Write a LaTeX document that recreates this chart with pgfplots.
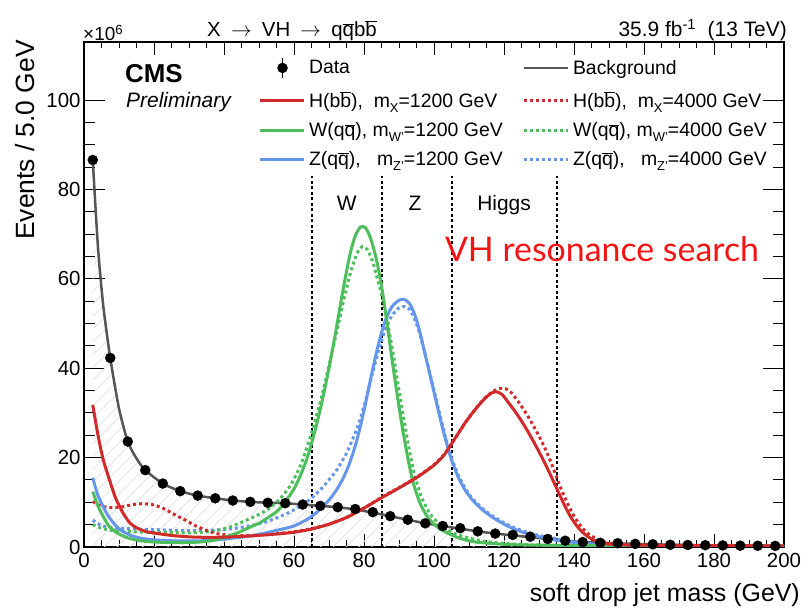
\documentclass[border=0pt]{standalone}
\usepackage{fontspec}
\setmainfont{Liberation Sans}
\newfontfamily\latofont{Lato}
\usepackage{pgfplots}
\pgfplotsset{compat=1.18}
\usetikzlibrary{patterns.meta}

\definecolor{cred}{RGB}{208,42,42}
\definecolor{cgreen}{RGB}{78,190,92}
\definecolor{cblue}{RGB}{100,150,236}
\definecolor{cbkg}{RGB}{85,85,85}
\definecolor{vhred}{RGB}{245,20,20}

\newcommand{\fs}[1]{\fontsize{#1}{#1}\selectfont}
\newcommand{\ob}[1]{\ensuremath{\overline{\mbox{#1}}}}
\newcommand{\sub}[1]{\raisebox{-5bp}{\fs{13}#1}}
\newcommand{\cw}[1]{\makebox[213bp][l]{#1}}
\newcommand{\arr}{\hspace{0.5em}\ensuremath{\rightarrow}\hspace{0.5em}}

% data: events per 5 GeV (x10^6)
\pgfplotstableread{
x y
2.5 86.6
7.5 42.3
12.5 23.6
17.5 17.2
22.5 14.2
27.5 12.5
32.5 11.5
37.5 10.9
42.5 10.4
47.5 10.1
52.5 9.9
57.5 9.8
62.5 9.5
67.5 9.2
72.5 8.9
77.5 8.5
82.5 7.8
87.5 6.9
92.5 6.1
97.5 5.3
102.5 4.7
107.5 4.2
112.5 3.5
117.5 3.0
122.5 2.7
127.5 2.3
132.5 1.8
137.5 1.4
142.5 1.1
147.5 0.95
152.5 0.85
157.5 0.7
162.5 0.6
167.5 0.5
172.5 0.45
177.5 0.4
182.5 0.35
187.5 0.3
192.5 0.28
197.5 0.25
}\datatab

\pgfplotstableread{
x y
2.5 86.6
4 67
5.5 54
7.5 42.3
10 31
12.5 23.6
15 19.8
17.5 17.2
22.5 14.2
27.5 12.5
32.5 11.5
37.5 10.9
42.5 10.4
47.5 10.1
52.5 9.9
57.5 9.8
62.5 9.5
67.5 9.2
72.5 8.9
77.5 8.4
82.5 7.7
87.5 6.9
92.5 6.1
97.5 5.3
102.5 4.7
107.5 4.1
112.5 3.5
117.5 3.0
122.5 2.6
127.5 2.2
132.5 1.8
137.5 1.4
142.5 1.1
147.5 0.95
152.5 0.82
157.5 0.7
162.5 0.6
167.5 0.52
172.5 0.45
177.5 0.4
182.5 0.35
187.5 0.31
192.5 0.28
200 0.24
}\bkgtab

\begin{document}
\begin{tikzpicture}
\useasboundingbox (-84bp,-66bp) rectangle (723bp,547bp);
\begin{axis}[
  at={(0,0)}, anchor=south west,
  scale only axis, width=700bp, height=505bp,
  xmin=0, xmax=200, ymin=0, ymax=113,
  xtick={0,20,...,200}, ytick={0,20,...,100},
  minor x tick num=3, minor y tick num=3,
  tick align=inside,
  axis line style={line width=1.3bp},
  every tick/.style={black, line width=1bp},
  xtick style={/pgfplots/major tick length=13bp, /pgfplots/minor tick length=6.5bp},
  ytick style={/pgfplots/major tick length=21bp, /pgfplots/minor tick length=11bp},
  tick label style={font=\fs{20.5}},
  xticklabel style={yshift=-3bp},
  /pgf/number format/assume math mode=true,
  scaled y ticks=false,
  sm/.style={smooth, tension=0.4},
  legend columns=2,
  legend cell align=left,
  legend style={at={(0.2486,0.9697)}, anchor=north west, draw=none, fill=none,
    inner sep=0pt, outer sep=0pt, row sep=13.2bp, column sep=0pt,
    font=\fs{19.5}, nodes={inner sep=0pt, outer sep=0pt}},
  legend image code/.code={\draw[#1] (0bp,0bp) -- (44bp,0bp); \path (48bp,0bp);},
]
% legend
\addlegendimage{legend image code/.code={\fill[black] (23bp,0bp) circle (5bp);
  \draw[black, line width=1.3bp] (23bp,-10bp) -- (23bp,10bp); \path (48bp,0bp);}}
\addlegendentry{\cw{Data}}
\addlegendimage{cbkg, line width=2.5bp}
\addlegendentry{Background}
\addlegendimage{cred, line width=3bp}
\addlegendentry{\cw{H(b\ob{b}),\ \ m\sub{X}=1200 GeV}}
\addlegendimage{cred, line width=3bp, dash pattern=on 3bp off 3bp}
\addlegendentry{H(b\ob{b}),\ \ m\sub{X}=4000 GeV}
\addlegendimage{cgreen, line width=3bp}
\addlegendentry{\cw{W(q\ob{q}), m\sub{W'}=1200 GeV}}
\addlegendimage{cgreen, line width=3bp, dash pattern=on 3bp off 3bp}
\addlegendentry{W(q\ob{q}), m\sub{W'}=4000 GeV}
\addlegendimage{cblue, line width=3bp}
\addlegendentry{\cw{Z(q\ob{q}),\ \ \ m\sub{Z'}=1200 GeV}}
\addlegendimage{cblue, line width=3bp, dash pattern=on 3bp off 3bp}
\addlegendentry{Z(q\ob{q}),\ \ \ m\sub{Z'}=4000 GeV}

% hatched background area
\addplot[draw=none, sm, pattern={Lines[angle=45,distance=9bp,line width=0.9bp]},
  pattern color=black!10, forget plot] table {\bkgtab} \closedcycle;

% mass windows
\addplot[black, line width=2bp, dash pattern=on 3bp off 2.5bp, forget plot] coordinates {(65,0) (65,83)};
\addplot[black, line width=2bp, dash pattern=on 3bp off 2.5bp, forget plot] coordinates {(85,0) (85,83)};
\addplot[black, line width=2bp, dash pattern=on 3bp off 2.5bp, forget plot] coordinates {(105,0) (105,83)};
\addplot[black, line width=2bp, dash pattern=on 3bp off 2.5bp, forget plot] coordinates {(135,0) (135,83)};

% background
\addplot[cbkg, line width=2.5bp, sm, forget plot] table {\bkgtab};

% Z 4000 dotted
\addplot[cblue, line width=3bp, dash pattern=on 3bp off 3bp, sm, forget plot] coordinates {
(2.5,6.0)(5,4.8)(8,4.3)(13,4.1)(20,3.9)(27,3.7)(33,3.7)(40,3.9)(45,4.4)(51,5.4)(56,6.8)
(60,8.3)(64,10.3)(68,13.2)(72,17)(75,21)(78,26.5)(80,31.5)(82,37.5)(84,43.5)(86,48.5)
(88,51.8)(90,53.5)(91.5,53.8)(93,53.2)(94.5,51)(96,47.5)(97.5,43)(99,38.3)(100.5,33.5)
(102,28.6)(103.5,24)(105,20)(107,16)(109,13)(111,10.8)(114,8.5)(117,6.8)(121,5)(125,3.7)
(130,2.6)(136,1.7)(142,1.0)(148,0.6)(155,0.4)(170,0.3)(200,0.22)};
% W 4000 dotted
\addplot[cgreen, line width=3bp, dash pattern=on 3bp off 3bp, sm, forget plot] coordinates {
(2.5,5)(5,4.2)(8,3.7)(12,3.5)(18,3.3)(25,3.2)(32,3.2)(37,3.6)(41,4.3)(44,5.2)(47,6.2)
(50,7.3)(53,8.7)(56,10.8)(59,13.8)(62,18.5)(65,25.5)(68,34)(71,44)(74,54.5)(76,61)
(78,65.7)(79.5,67.2)(81,66.5)(82.5,63.8)(84,59.5)(85.5,55)(87,49)(88.5,42.5)(90,35)
(91.5,28)(93,21.5)(94.5,16)(96.5,11)(99,7.3)(102,4.8)(106,3.0)(110,2.0)(115,1.2)(122,0.7)
(130,0.45)(150,0.3)(200,0.2)};
% H 4000 dotted
\addplot[cred, line width=3bp, dash pattern=on 3bp off 3bp, sm, forget plot] coordinates {
(2.5,10.2)(5,9.1)(8,8.8)(11,9.0)(14,9.5)(17,9.7)(20,9.4)(23,8.5)(26,7.2)(29,6.0)(32,4.7)
(35,3.7)(38,3.0)(42,2.6)(48,2.6)(55,3.0)(60,3.4)(65,4.1)(70,5.1)(75,6.6)(80,8.7)(85,11.1)
(90,13.3)(95,15.6)(100,18.4)(103,20.8)(106,24.3)(109,27.9)(112,31.0)(114.5,33.3)(117,34.9)
(119,35.5)(120.5,35.4)(122,34.6)(124,32.6)(126,30.3)(128,27.7)(130,24.8)(132,21.6)
(134,17.8)(136,13.6)(138,10.0)(140,6.9)(142,4.6)(144,3.0)(146,2.0)(148,1.3)(151,0.7)
(156,0.45)(170,0.35)(200,0.25)};
% Z 1200
\addplot[cblue, line width=3bp, sm, forget plot] coordinates {
(2.5,15.5)(4,11.5)(6.5,7.5)(8.5,5.3)(10.3,3.9)(13,2.7)(16,2.0)(20,1.6)(25,1.4)(32,1.35)
(38,1.6)(42,1.95)(47,2.4)(51,3.0)(56,3.9)(60,4.7)(64,6.3)(67,8.1)(70,10.5)(72,12.6)
(74,15.3)(76,19)(78,24)(80,30.5)(82,38)(84,45)(86,50.5)(88,53.8)(90,55.2)(91.5,55.4)
(93,54.5)(94.5,52)(96,48)(97.5,43)(99,38)(100.5,33)(102,28)(103.5,23.5)(105,19.5)
(107,15.5)(109,12.6)(111,10.5)(114,8.2)(117,6.5)(121,4.7)(125,3.4)(129,2.5)(133,1.8)
(138,1.2)(143,0.8)(148,0.5)(155,0.35)(170,0.25)(200,0.2)};
% W 1200
\addplot[cgreen, line width=3bp, sm, forget plot] coordinates {
(2.5,12.4)(4,9.2)(5.5,6.8)(7,4.8)(8.5,3.7)(10,2.9)(13,1.9)(17,1.3)(22,1.05)(28,1.0)(33,1.1)
(37,1.5)(41,2.4)(44,3.2)(47,4.3)(50,5.3)(53,6.8)(55,7.9)(57,9.6)(60,13)(62,16.3)(64,20.5)
(66,26)(68,32.5)(70,40)(72,48.5)(74,57.5)(76,65.5)(77.5,69.6)(79,71.6)(80.5,71.4)(82,68.8)
(83.5,64.5)(85,58.5)(86.5,50.5)(88,42)(89.5,34)(91,26.5)(92.5,20)(94,14.5)(96,9.8)(98,6.9)
(100,5.1)(102,3.9)(105,2.7)(108,1.8)(112,1.1)(120,0.6)(130,0.4)(150,0.3)(200,0.2)};
% H 1200
\addplot[cred, line width=3bp, sm, forget plot] coordinates {
(2.5,31.8)(4,25)(5.5,19.5)(7.5,14.5)(9,11)(11,7.8)(13,5.5)(15,4.3)(18,3.4)(22,2.9)(26,2.5)
(32,2.2)(40,2.2)(48,2.5)(55,2.9)(60,3.3)(65,4.0)(70,5.1)(75,6.6)(80,8.7)(85,11.0)(90,13.2)
(95,15.5)(100,18.3)(103,20.7)(106,24.3)(109,27.9)(112,31.0)(114.5,33.2)(116.5,34.5)
(118,34.7)(119.5,34.1)(121,32.6)(123,30.5)(125,28.2)(127,25.6)(129,22.8)(131,19.8)
(133,16.6)(135,13.2)(137,9.8)(139,6.8)(141,4.5)(143,2.9)(145,1.8)(147,1.1)(150,0.65)
(155,0.45)(170,0.35)(200,0.25)};

% data
\addplot[only marks, mark=*, mark size=5bp, black, forget plot] table {\datatab};

% window labels
\node[anchor=base, font=\fs{21}] at (axis cs:75.1,75.4) {W};
\node[anchor=base, font=\fs{21}] at (axis cs:94.6,75.4) {Z};
\node[anchor=base, font=\fs{21}] at (axis cs:120,75.4) {Higgs};
\node[anchor=base west, inner sep=0pt, text=vhred, font=\latofont\fs{34}] at (axis cs:103.1,63.8) {VH resonance search};
\end{axis}

\node[anchor=base west, inner sep=0pt, font=\fs{19}] at (-1bp,506bp) {×10\textsuperscript{6}};
\node[anchor=base west, inner sep=0pt, font=\fs{20.5}] at (123bp,510bp) {X\arr VH\arr q\ob{q}b\ob{b}};
\node[anchor=base east, inner sep=0pt, font=\fs{21}] at (703bp,510bp) {35.9 fb\textsuperscript{-1}\ \ (13 TeV)};
\node[anchor=base west, inner sep=0pt, font=\bfseries\fs{26}] at (41bp,464bp) {CMS};
\node[anchor=base west, inner sep=0pt, font=\itshape\fs{21}] at (42bp,439bp) {Preliminary};
\node[anchor=base east, inner sep=0pt, rotate=90, font=\fs{26.5}] at (-49bp,507bp) {Events / 5.0 GeV};
\node[anchor=base east, inner sep=0pt, font=\fs{25}] at (716bp,-54bp) {soft drop jet mass (GeV)};
\end{tikzpicture}
\end{document}
